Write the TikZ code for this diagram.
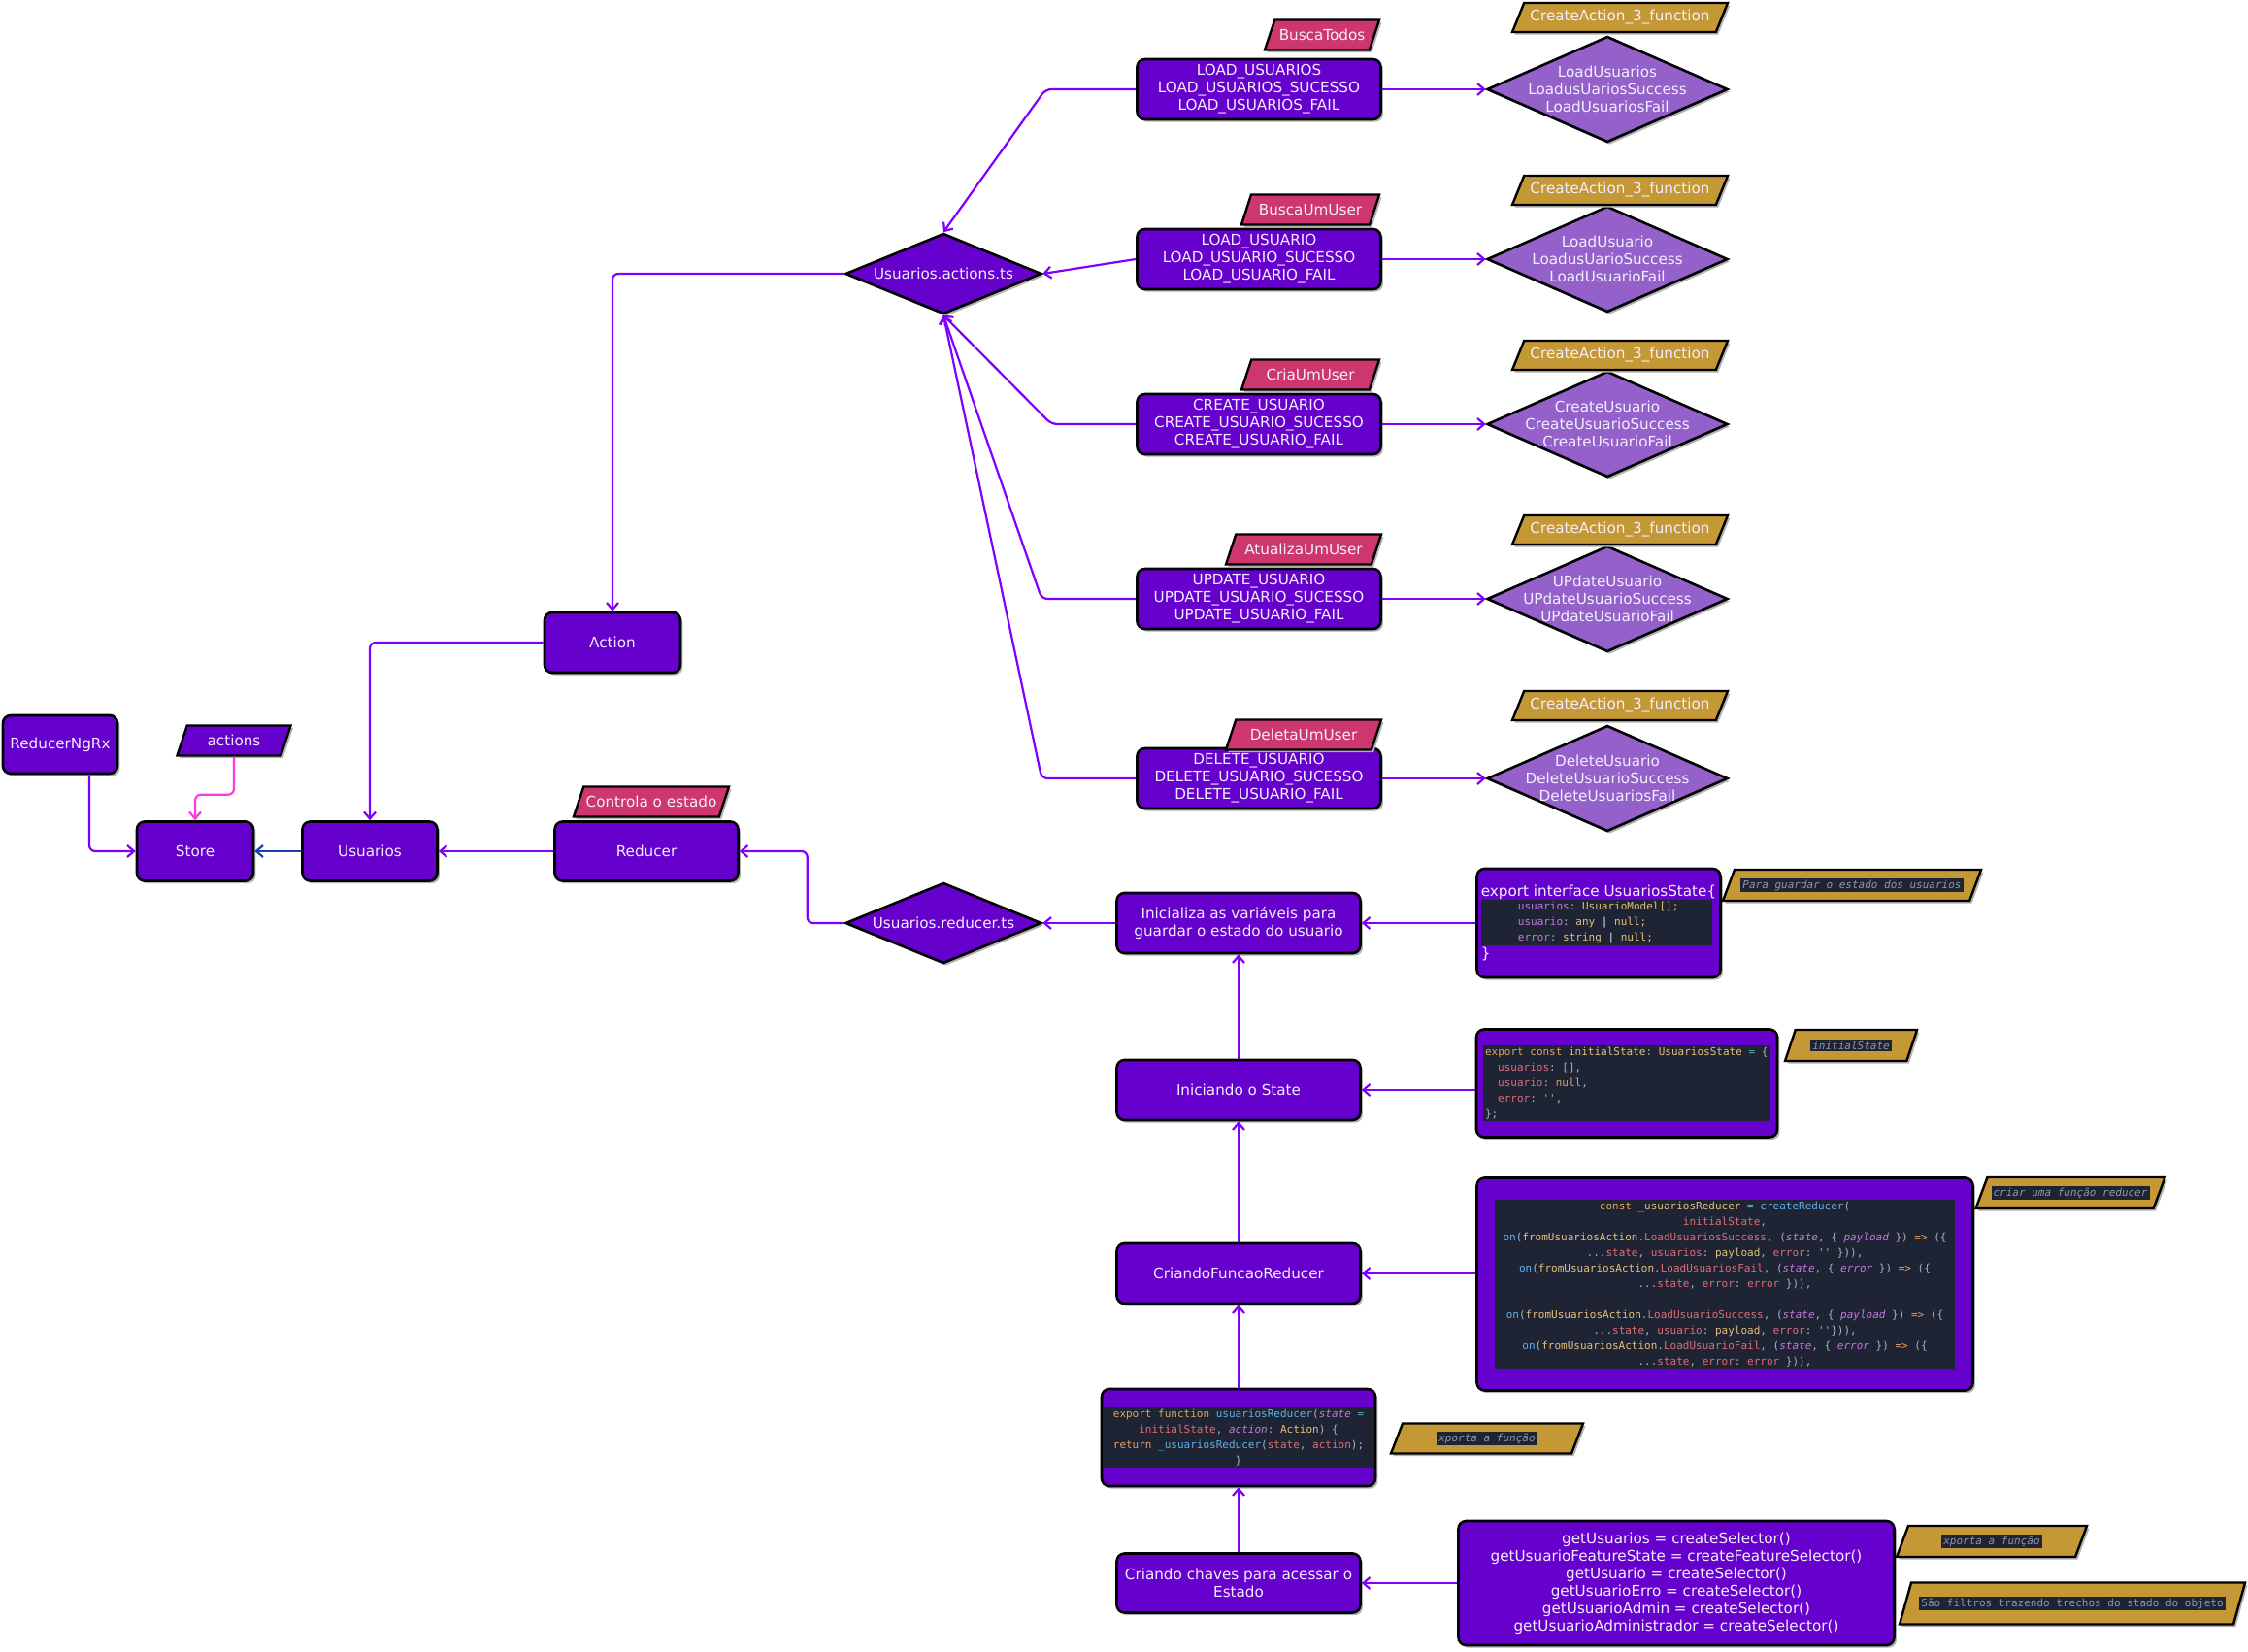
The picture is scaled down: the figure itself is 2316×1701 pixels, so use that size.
\documentclass[tikz,border=0pt]{standalone}
\usepackage{fontspec}
\setmainfont{DejaVu Sans}
\setmonofont{DejaVu Sans Mono}
\usetikzlibrary{arrows.meta,positioning,shapes.geometric,shadows}
\definecolor{grape}{HTML}{6600CC}
\definecolor{lavender}{HTML}{9361C9}
\definecolor{rose}{HTML}{CE376E}
\definecolor{ochre}{HTML}{C49834}
\definecolor{wire}{HTML}{8000FF}
\definecolor{fuchsia}{HTML}{FF3BE0}
\definecolor{deepblue}{HTML}{1A3FB0}
\definecolor{ink}{HTML}{F3EEFF}
\definecolor{codebg}{HTML}{1E2433}
\definecolor{codetxt}{HTML}{ABB2BF}
\definecolor{codegray}{HTML}{8E99AB}
\definecolor{codekw}{HTML}{E2A265}
\definecolor{codefn}{HTML}{61AFEF}
\definecolor{codety}{HTML}{E5C07B}
\definecolor{codepr}{HTML}{E06C75}
\definecolor{codepa}{HTML}{C678DD}
\definecolor{codest}{HTML}{98C379}
\definecolor{codeop}{HTML}{56B6C2}
\setlength{\fboxsep}{1pt}
\newcommand\ckw[1]{\textcolor{codekw}{#1}}
\newcommand\cfn[1]{\textcolor{codefn}{#1}}
\newcommand\cty[1]{\textcolor{codety}{#1}}
\newcommand\cpr[1]{\textcolor{codepr}{#1}}
\newcommand\clil[1]{\textcolor{codepa}{#1}}
\newcommand\cpa[1]{\textcolor{codepa}{\itshape #1}}
\newcommand\cst[1]{\textcolor{codest}{#1}}
\newcommand\cop[1]{\textcolor{codeop}{#1}}
\newcommand\codefont{\ttfamily\fontsize{5.5}{8}\selectfont\color{codetxt}}
\newcommand\codepanel[2]{\colorbox{codebg}{\parbox{#1}{#2}}}
\newcommand\tagnote[1]{\colorbox{codebg}{\codefont\color{codegray}#1}}

\begin{document}
\begin{tikzpicture}[x=0.5pt,y=-0.5pt,font=\fontsize{7.6}{9}\selectfont,
    shade/.style={drop shadow={shadow xshift=1.2pt,shadow yshift=-1.3pt,fill=black!30,opacity=1}},
    pbox/.style={draw=black,line width=1.3pt,fill=grape,rounded corners=4pt,text=ink,
                 align=center,inner sep=1pt,shade},
    ddiam/.style={diamond,aspect=2.43,draw=black,line width=1.3pt,fill=grape,text=ink,
                  inner sep=0pt,minimum width=101pt,minimum height=41.5pt,shade},
    ldiam/.style={diamond,draw=black,line width=1.3pt,fill=lavender,inner sep=0pt,
                  minimum width=124pt,minimum height=54.5pt,shade},
    dtxt/.style={text=ink,align=center,inner sep=0pt},
    ptag/.style={trapezium,trapezium left angle=60,trapezium right angle=120,
                 trapezium stretches body,draw=black,line width=1.2pt,fill=rose,text=ink,
                 inner xsep=-3pt,inner ysep=1.5pt,minimum height=15.5pt,shade},
    gtag/.style={ptag,fill=ochre,minimum height=15pt},
    vtag/.style={ptag,fill=grape},
    link/.style={draw=wire,line width=1.1pt,rounded corners=3pt,
                 -{Straight Barb[length=3.5pt,width=6pt]}}]
  \fill[white] (0,0) rectangle (2316,1701);
  \useasboundingbox (0,0) rectangle (2316,1701);

  % store side
  \node[pbox,minimum width=59pt,minimum height=30pt] (rngrx) at (62,767) {ReducerNgRx};
  \node[vtag,minimum width=58.5pt] (acts) at (241,763) {actions};
  \node[pbox,minimum width=60pt,minimum height=30.5pt] (store) at (201,877) {Store};
  \node[pbox,minimum width=69.5pt,minimum height=30.5pt] (usu) at (381,877) {Usuarios};
  \node[pbox,minimum width=70pt,minimum height=31pt] (act) at (631,662) {Action};
  \node[pbox,minimum width=94.5pt,minimum height=30.5pt] (red) at (666,877) {Reducer};
  \node[ptag,minimum width=80pt] (ctrl) at (671,826) {Controla o estado};
  \node[ddiam] (actts) at (972,282) {Usuarios.actions.ts};
  \node[ddiam] (redts) at (972,951) {Usuarios.reducer.ts};

  % actions
  \node[pbox,minimum width=125.5pt,minimum height=31pt] (lu) at (1297,92)
    {LOAD\_USUARIOS\\LOAD\_USUARIOS\_SUCESSO\\LOAD\_USUARIOS\_FAIL};
  \node[pbox,minimum width=125.5pt,minimum height=31pt] (lo) at (1297,267)
    {LOAD\_USUARIO\\LOAD\_USUARIO\_SUCESSO\\LOAD\_USUARIO\_FAIL};
  \node[pbox,minimum width=125.5pt,minimum height=31pt] (cr) at (1297,437)
    {CREATE\_USUARIO\\CREATE\_USUARIO\_SUCESSO\\CREATE\_USUARIO\_FAIL};
  \node[pbox,minimum width=125.5pt,minimum height=31pt] (up) at (1297,617)
    {UPDATE\_USUARIO\\UPDATE\_USUARIO\_SUCESSO\\UPDATE\_USUARIO\_FAIL};
  \node[pbox,minimum width=125.5pt,minimum height=31pt] (de) at (1297,802)
    {DELETE\_USUARIO\\DELETE\_USUARIO\_SUCESSO\\DELETE\_USUARIO\_FAIL};

  \node[ptag,minimum width=59pt] (tlu) at (1362,36) {BuscaTodos};
  \node[ptag,minimum width=71pt] (tlo) at (1350,216) {BuscaUmUser};
  \node[ptag,minimum width=71pt] (tcr) at (1350,386) {CriaUmUser};
  \node[ptag,minimum width=80pt] (tup) at (1343,566) {AtualizaUmUser};
  \node[ptag,minimum width=80pt] (tde) at (1343,757) {DeletaUmUser};

  \node[ldiam,label={[dtxt]center:{LoadUsuarios\\LoadusUariosSuccess\\LoadUsuariosFail}}] (dlu) at (1656,92) {};
  \node[ldiam,label={[dtxt]center:{LoadUsuario\\LoadusUarioSuccess\\LoadUsuarioFail}}] (dlo) at (1656,267) {};
  \node[ldiam,label={[dtxt]center:{CreateUsuario\\CreateUsuarioSuccess\\CreateUsuarioFail}}] (dcr) at (1656,437) {};
  \node[ldiam,label={[dtxt]center:{UPdateUsuario\\UPdateUsuarioSuccess\\UPdateUsuarioFail}}] (dup) at (1656,617) {};
  \node[ldiam,label={[dtxt]center:{DeleteUsuario\\DeleteUsuarioSuccess\\DeleteUsuariosFail}}] (dde) at (1656,802) {};

  \node[gtag,minimum width=111pt] (glu) at (1669,18) {CreateAction\_3\_function};
  \node[gtag,minimum width=111pt] (glo) at (1669,196) {CreateAction\_3\_function};
  \node[gtag,minimum width=111pt] (gcr) at (1669,366) {CreateAction\_3\_function};
  \node[gtag,minimum width=111pt] (gup) at (1669,546) {CreateAction\_3\_function};
  \node[gtag,minimum width=111pt] (gde) at (1669,727) {CreateAction\_3\_function};

  % reducer steps
  \node[pbox,minimum width=125.5pt,minimum height=31pt] (ini) at (1276,951)
    {Inicializa as variáveis para\\guardar o estado do usuario};
  \node[pbox,minimum width=125.5pt,minimum height=31pt] (ist) at (1276,1123) {Iniciando o State};
  \node[pbox,minimum width=125.5pt,minimum height=31pt] (cfr) at (1276,1312) {CriandoFuncaoReducer};
  \node[pbox,minimum width=140.5pt,minimum height=50pt] (exfn) at (1276,1481)
    {\codepanel{137pt}{\centering\codefont
      \ckw{export function} \cfn{usuariosReducer}(\cpa{state} \cop{=}\\
      \cpr{initialState}, \cpa{action}: \cty{Action}) \{\\
      \ckw{return} \cfn{\_usuariosReducer}(\cpr{state}, \cpr{action});\\
      \}}};
  \node[pbox,minimum width=125.5pt,minimum height=30.5pt] (chv) at (1276,1631)
    {Criando chaves para acessar o\\Estado};

  % code side
  \node[pbox,minimum width=125.5pt,minimum height=56pt,align=left] (iface) at (1647,951)
    {export interface UsuariosState\{\\[-1pt]
     \codepanel{117pt}{\codefont
       \hspace*{18pt}\clil{usuarios}: \cty{UsuarioModel[];}\\
       \hspace*{18pt}\clil{usuario}: \cty{any} \textcolor{ink}{|} \cty{null;}\\
       \hspace*{18pt}\clil{error}: \cty{string} \textcolor{ink}{|} \cty{null;}}\\
     \}};
  \node[pbox,minimum width=155pt,minimum height=55.5pt,align=left] (istate) at (1676,1116)
    {\codepanel{146pt}{\raggedright\codefont
      \ckw{export const} \cty{initialState}: \cty{UsuariosState} \cop{=} \{\\
      \hspace*{6.6pt}\cpr{usuarios}: [],\\
      \hspace*{6.6pt}\cpr{usuario}: \ckw{null},\\
      \hspace*{6.6pt}\cpr{error}: \cst{'{}'},\\
      \};}};
  \node[pbox,minimum width=255.5pt,minimum height=109.5pt] (creducer) at (1777,1323)
    {\codepanel{235pt}{\centering\codefont
      \ckw{const} \cty{\_usuariosReducer} \cop{=} \cfn{createReducer}(\\
      \cpr{initialState},\\
      \cfn{on}(\cty{fromUsuariosAction}.\cpr{LoadUsuariosSuccess}, (\cpa{state}, \{ \cpa{payload} \}) \ckw{=>} (\{\\
      ...\cpr{state}, \cpr{usuarios}: \cty{payload}, \cpr{error}: \cst{'{}'} \})),\\
      \cfn{on}(\cty{fromUsuariosAction}.\cpr{LoadUsuariosFail}, (\cpa{state}, \{ \cpa{error} \}) \ckw{=>} (\{\\
      ...\cpr{state}, \cpr{error}: \cpr{error} \})),\\[8pt]
      \cfn{on}(\cty{fromUsuariosAction}.\cpr{LoadUsuarioSuccess}, (\cpa{state}, \{ \cpa{payload} \}) \ckw{=>} (\{\\
      ...\cpr{state}, \cpr{usuario}: \cty{payload}, \cpr{error}: \cst{'{}'}\})),\\
      \cfn{on}(\cty{fromUsuariosAction}.\cpr{LoadUsuarioFail}, (\cpa{state}, \{ \cpa{error} \}) \ckw{=>} (\{\\
      ...\cpr{state}, \cpr{error}: \cpr{error} \})),}};
  \node[pbox,minimum width=224.5pt,minimum height=64pt] (sel) at (1727,1631)
    {getUsuarios = createSelector()\\
     getUsuarioFeatureState = createFeatureSelector()\\
     getUsuario = createSelector()\\
     getUsuarioErro = createSelector()\\
     getUsuarioAdmin = createSelector()\\
     getUsuarioAdministrador = createSelector()};

  % notes
  \node[gtag,minimum width=133pt,minimum height=16pt] (nguard) at (1908,912)
    {\tagnote{\itshape Para guardar o estado dos usuarios}};
  \node[gtag,minimum width=68pt,minimum height=16pt] (ninit) at (1907,1077)
    {\tagnote{\itshape initialState}};
  \node[gtag,minimum width=97.5pt,minimum height=16pt] (ncriar) at (2133,1229)
    {\tagnote{\itshape criar uma função reducer}};
  \node[gtag,minimum width=99pt,minimum height=15.5pt] (nexp) at (1532,1482)
    {\tagnote{\itshape xporta a função}};
  \node[gtag,minimum width=98pt,minimum height=16pt] (nexp2) at (2052,1588)
    {\tagnote{\itshape xporta a função}};
  \node[gtag,minimum width=178pt,minimum height=21.5pt] (nfilt) at (2135,1652)
    {\tagnote{São filtros trazendo trechos do stado do objeto}};

  % connectors
  \draw[link] ([xshift=15pt]rngrx.south) |- (store.west);
  \draw[link,draw=fuchsia] (acts.south) -- ++(0,39) -| (store.north);
  \draw[link,draw=deepblue] (usu.west) -- (store.east);
  \draw[link] (red.west) -- (usu.east);
  \draw[link] (act.west) -| (usu.north);
  \draw[link] (actts.west) -| (act.north);
  \draw[link] (lu.west) -- ++(-93,0) -- (actts.north);
  \draw[link] (lo.west) -- (actts.east);
  \draw[link] (cr.west) -- ++(-87,0) -- (actts.south);
  \draw[link] (up.west) -- ++(-97,0) -- (actts.south);
  \draw[link] (de.west) -- ++(-97,0) -- (actts.south);
  \draw[link] (lu.east) -- (dlu.west);
  \draw[link] (lo.east) -- (dlo.west);
  \draw[link] (cr.east) -- (dcr.west);
  \draw[link] (up.east) -- (dup.west);
  \draw[link] (de.east) -- (dde.west);
  \draw[link] (redts.west) -- ++(-38,0) |- (red.east);
  \draw[link] (ini.west) -- (redts.east);
  \draw[link] (iface.west) -- (ini.east);
  \draw[link] (ist.north) -- (ini.south);
  \draw[link] (istate.west |- ist.east) -- (ist.east);
  \draw[link] (cfr.north) -- (ist.south);
  \draw[link] (creducer.west |- cfr.east) -- (cfr.east);
  \draw[link] (exfn.north) -- (cfr.south);
  \draw[link] (chv.north) -- (exfn.south);
  \draw[link] (sel.west) -- (chv.east);
\end{tikzpicture}
\end{document}
